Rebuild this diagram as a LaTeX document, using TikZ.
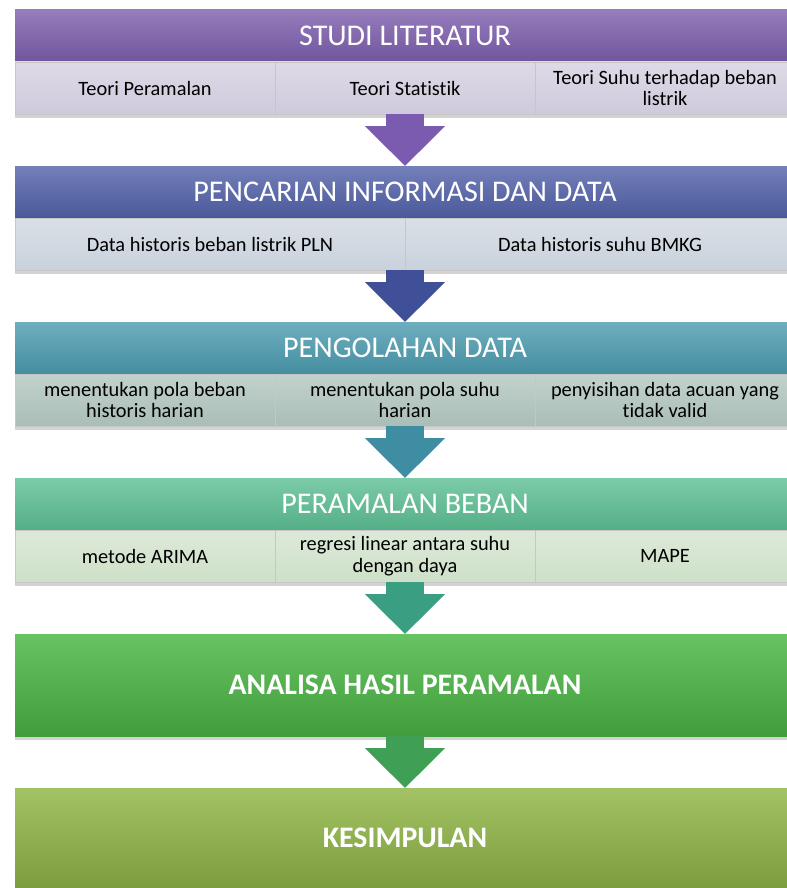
\documentclass[tikz,border=0pt]{standalone}
\usepackage{fontspec}
\setmainfont{Carlito}[Ligatures=NoCommon]
\usepackage{xcolor}
\usepackage{tikz}
\usetikzlibrary{arrows.meta, positioning, shadows}
\definecolor{ungu}{HTML}{7B5CAB}
\definecolor{biru}{HTML}{5160A8}
\definecolor{tosca}{HTML}{4A9AAE}
\definecolor{hijaumuda}{HTML}{5BBE92}
\definecolor{hijau}{HTML}{4DB847}
\definecolor{zaitun}{HTML}{92B848}
\definecolor{lavender}{HTML}{CFCADC}
\definecolor{abubiru}{HTML}{C9D2DC}
\definecolor{abuhijau}{HTML}{A9BEB6}
\definecolor{hijaupucat}{HTML}{CEE0C8}
\definecolor{panahungu}{HTML}{7B5BB0}
\definecolor{panahbiru}{HTML}{3F4F98}
\definecolor{panahtosca}{HTML}{3F8DA3}
\definecolor{panahhijau}{HTML}{3A9E82}
\definecolor{panahdaun}{HTML}{3E9F55}
\tikzset{
  judul/.style={rectangle, top color=#1!80!white, bottom color=#1!92!black,
    text=white, font=\fontsize{21.4}{25}\selectfont, minimum width=19.5cm,
    minimum height=1.3cm, inner sep=0pt, outer sep=0pt, align=center},
  isi/.style={rectangle, top color=#1!70!white, bottom color=#1,
    draw=white!55!gray, line width=0.5pt, text=black,
    font=\fontsize{14.5}{15.5}\selectfont, minimum width=6.5cm,
    minimum height=1.3cm, inner sep=0pt, outer sep=0pt, align=center,
    drop shadow={shadow xshift=0pt, shadow yshift=-2.5pt, opacity=0.35}},
  blok/.style={rectangle, top color=#1!85!white, bottom color=#1!85!black,
    text=white, font=\fontsize{21.2}{25}\selectfont\bfseries,
    minimum width=19.5cm, minimum height=2.55cm, inner sep=0pt,
    outer sep=0pt, align=center,
    drop shadow={shadow xshift=0pt, shadow yshift=-2.5pt, opacity=0.35}},
  panah/.style={draw=#1, line width=0.95cm,
    -{Triangle[length=1cm, width=1.95cm]}}
}
\begin{document}
\begin{tikzpicture}
    \useasboundingbox (0,0) rectangle (19.65,-22.2);

    % Studi literatur
    \node[judul=ungu] (h1) at (10.125,-0.9) {STUDI LITERATUR};
    \node[isi=lavender] (s1b) [below=0pt of h1] {Teori Statistik};
    \node[isi=lavender] (s1a) [left=0pt of s1b] {Teori Peramalan};
    \node[isi=lavender] (s1c) [right=0pt of s1b] {Teori Suhu terhadap beban\\ listrik};

    % Pencarian informasi dan data
    \node[judul=biru] (h2) [below=1.3cm of s1b] {PENCARIAN INFORMASI DAN DATA};
    \node[isi=abubiru, minimum width=9.75cm, anchor=north west] (s2a) at (h2.south west) {Data historis beban listrik PLN};
    \node[isi=abubiru, minimum width=9.75cm] (s2b) [right=0pt of s2a] {Data historis suhu BMKG};

    % Pengolahan data
    \node[judul=tosca] (h3) [below=1.3cm of h2.south |- s2a.south] {PENGOLAHAN DATA};
    \node[isi=abuhijau] (s3b) [below=0pt of h3] {menentukan pola suhu\\ harian};
    \node[isi=abuhijau] (s3a) [left=0pt of s3b] {menentukan pola beban\\ historis harian};
    \node[isi=abuhijau] (s3c) [right=0pt of s3b] {penyisihan data acuan yang\\ tidak valid};

    % Peramalan beban
    \node[judul=hijaumuda] (h4) [below=1.3cm of s3b] {PERAMALAN BEBAN};
    \node[isi=hijaupucat] (s4b) [below=0pt of h4] {regresi linear antara suhu\\ dengan daya};
    \node[isi=hijaupucat] (s4a) [left=0pt of s4b] {metode ARIMA};
    \node[isi=hijaupucat] (s4c) [right=0pt of s4b] {MAPE};

    % Analisa dan kesimpulan
    \node[blok=hijau] (b5) [below=1.3cm of s4b] {ANALISA HASIL PERAMALAN};
    \node[blok=zaitun, minimum height=2.5cm] (b6) [below=1.3cm of b5] {KESIMPULAN};

    % Panah
    \draw[panah=panahungu] (s1b.south) -- (h2.north);
    \draw[panah=panahbiru] (s2a.south east) -- (h3.north);
    \draw[panah=panahtosca] (s3b.south) -- (h4.north);
    \draw[panah=panahhijau] (s4b.south) -- (b5.north);
    \draw[panah=panahdaun] (b5.south) -- (b6.north);
\end{tikzpicture}
\end{document}
